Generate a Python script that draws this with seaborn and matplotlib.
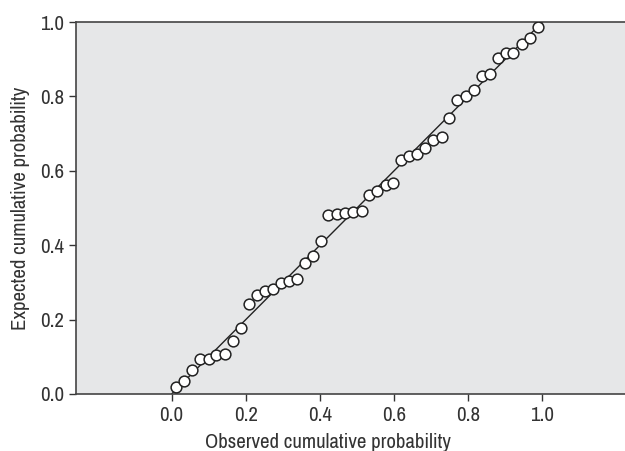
import matplotlib
matplotlib.use("Agg")
import matplotlib.pyplot as plt
from matplotlib import font_manager
import seaborn as sns

sns.set_style("ticks")

# prefer a narrow face, like the original's condensed type
narrow = sorted({f.name for f in font_manager.fontManager.ttflist
                 if "Narrow" in f.name or "Condensed" in f.name})
plt.rcParams['font.family'] = narrow[:1] + ['Liberation Sans', 'DejaVu Sans']

# observed vs expected cumulative probability
observed = [0.012, 0.033, 0.056, 0.077, 0.100, 0.121, 0.144, 0.165, 0.186, 0.208,
            0.229, 0.251, 0.273, 0.294, 0.316, 0.337, 0.360, 0.380, 0.402, 0.423,
            0.445, 0.468, 0.490, 0.513, 0.532, 0.555, 0.577, 0.598, 0.618, 0.640,
            0.662, 0.683, 0.706, 0.728, 0.749, 0.771, 0.793, 0.815, 0.836, 0.858,
            0.880, 0.901, 0.922, 0.944, 0.967, 0.987]
expected = [0.019, 0.036, 0.065, 0.095, 0.095, 0.105, 0.108, 0.142, 0.177, 0.241,
            0.267, 0.277, 0.282, 0.298, 0.305, 0.309, 0.351, 0.372, 0.411, 0.480,
            0.485, 0.486, 0.488, 0.491, 0.534, 0.547, 0.563, 0.566, 0.629, 0.641,
            0.644, 0.661, 0.683, 0.690, 0.741, 0.789, 0.801, 0.816, 0.856, 0.859,
            0.904, 0.917, 0.916, 0.940, 0.956, 0.987]
diag = [0.0, 1.0]
ticks = [0.0, 0.2, 0.4, 0.6, 0.8, 1.0]

fig = plt.figure(figsize=(6.25, 4.51), dpi=100)
ax = fig.add_axes([0.1216, 0.1264, 0.8784, 0.8248])
ax.set_facecolor("#e6e7e8")

sns.lineplot(ax=ax, x=diag, y=diag, color="#222222", linewidth=1.0)
sns.scatterplot(ax=ax, x=observed, y=expected, s=60, color="white",
                edgecolor="#222222", linewidth=1.1, zorder=3)

ax.set_xlim(-0.258, 1.223)
ax.set_ylim(0, 1.0)
ax.set_xticks(ticks)
ax.set_yticks(ticks)
ax.set_xticklabels([f"{t:.1f}" for t in ticks])
ax.set_yticklabels([f"{t:.1f}" for t in ticks])
ax.tick_params(labelsize=15, length=5, width=1, color="#333333", labelcolor="#333333")

for side in ["left", "bottom", "top"]:
    ax.spines[side].set_color("#444444")
    ax.spines[side].set_linewidth(1.2)
ax.spines["right"].set_visible(False)

ax.set_xlabel("Observed cumulative probability", fontsize=15, color="#333333")
ax.set_ylabel("Expected cumulative probability", fontsize=15, color="#333333")
ax.xaxis.set_label_coords(0.459, -0.104)
ax.yaxis.set_label_coords(-0.083, 0.5)

fig.savefig("out.png", dpi=100)
